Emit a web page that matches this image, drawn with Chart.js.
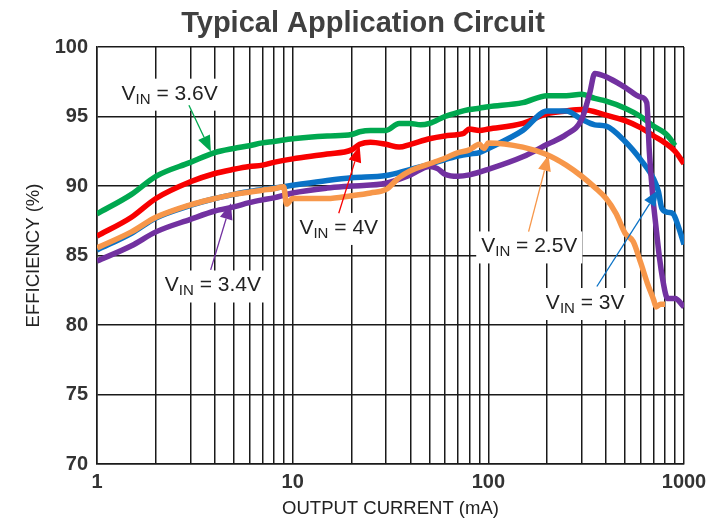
<!DOCTYPE html>
<html>
<head>
<meta charset="utf-8">
<script src="https://cdn.jsdelivr.net/npm/chart.js@4.4.0/dist/chart.umd.min.js"></script>
<style>
  body { margin: 0; background: #fff; }
</style>
</head>
<body>
<canvas id="eff-chart" width="726" height="523"></canvas>
<script>
/* axis ticks */
var xMajor = [1, 10, 100, 1000];
var xMinor = [2, 3, 4, 5, 6, 7, 8, 9];
var yTicks = [70, 75, 80, 85, 90, 95, 100];

/* curves: output current (mA) / efficiency (%) */
var i36 = [1, 1.5, 2, 3, 4, 5, 6, 7, 8, 10, 15, 20, 22, 25, 30, 35, 40, 45, 50, 60, 70, 80, 90, 100, 150, 200, 250, 300, 350, 400, 500, 600, 700, 800, 850, 900];
var e36 = [88.0, 89.4, 90.7, 91.7, 92.4, 92.7, 92.9, 93.1, 93.2, 93.4, 93.6, 93.7, 93.9, 94.0, 94.0, 94.5, 94.5, 94.4, 94.5, 95.0, 95.3, 95.5, 95.6, 95.7, 96.0, 96.5, 96.5, 96.6, 96.3, 96.1, 95.6, 95.0, 94.3, 93.8, 93.4, 92.9];

var i4 = [1, 1.5, 2, 3, 4, 5, 6, 7, 8, 10, 15, 20, 22, 25, 30, 35, 40, 50, 60, 70, 75, 80, 90, 100, 150, 200, 250, 300, 400, 500, 600, 700, 800, 900, 1000];
var e4 = [86.4, 87.75, 89.1, 90.3, 90.9, 91.2, 91.4, 91.5, 91.7, 91.95, 92.3, 92.6, 93.0, 93.15, 93.0, 92.8, 93.0, 93.4, 93.6, 93.7, 93.8, 94.1, 94.0, 94.1, 94.5, 95.2, 95.4, 95.5, 95.1, 94.7, 94.2, 93.6, 93.1, 92.5, 91.6];

var i3 = [1, 1.5, 2, 3, 4, 5, 6, 7, 8, 10, 15, 20, 30, 40, 50, 60, 70, 80, 90, 100, 150, 200, 250, 300, 350, 400, 500, 600, 700, 740, 770, 830, 880, 935, 1000];
var e3 = [85.4, 86.6, 87.7, 88.6, 89.1, 89.4, 89.6, 89.75, 89.85, 90.05, 90.4, 90.6, 90.75, 91.2, 91.55, 91.9, 92.15, 92.3, 92.4, 92.7, 94.0, 95.4, 95.4, 94.8, 94.4, 94.3, 93.2, 91.9, 90.5, 89.6, 88.4, 88.1, 88.0, 87.1, 85.8];

var i25 = [1, 1.5, 2, 3, 4, 5, 6, 7, 8, 9, 9.3, 10, 15, 20, 25, 30, 35, 40, 50, 60, 70, 80, 90, 95, 100, 150, 200, 250, 300, 350, 400, 450, 500, 550, 600, 650, 700, 720, 760, 800];
var e25 = [85.55, 86.7, 87.75, 88.65, 89.1, 89.4, 89.55, 89.7, 89.8, 89.95, 88.7, 89.1, 89.1, 89.3, 89.5, 89.75, 90.6, 91.1, 91.6, 92.0, 92.4, 92.6, 93.0, 92.7, 93.1, 92.8, 92.25, 91.5, 90.7, 89.9, 89.1, 88.0, 86.6, 86.0, 84.5, 83.0, 81.8, 81.3, 81.5, 81.5];

var i34 = [1, 1.5, 2, 3, 4, 5, 6, 7, 8, 10, 15, 20, 30, 40, 50, 55, 60, 70, 80, 100, 150, 200, 250, 300, 330, 350, 400, 500, 600, 645, 665, 690, 720, 750, 780, 810, 830, 900, 1000];
var e34 = [84.6, 85.7, 86.7, 87.6, 88.2, 88.5, 88.8, 89.0, 89.15, 89.5, 89.85, 90.0, 90.2, 90.8, 91.4, 91.25, 90.85, 90.7, 90.8, 91.2, 92.1, 93.0, 93.7, 94.8, 96.7, 98.1, 97.85, 97.1, 96.4, 96.0, 92.5, 89.5, 87.0, 84.8, 83.2, 82.1, 81.9, 81.9, 81.3];

var colors = {
  '3.6V': '#00a84f',
  '4V': '#f80000',
  '3V': '#0a72c6',
  '2.5V': '#f7974a',
  '3.4V': '#7231a0'
};

// label spots + arrow (data units)
var notes = [
  { vin: '3.6V', at: [2.35, 96.57], tail: [2.95, 95.81], tip: [3.82, 92.46] },
  { vin: '4V', at: [17.2, 86.91], tail: [17.2, 88.04], tip: [22.0, 92.87] },
  { vin: '3.4V', at: [3.91, 82.77], tail: [3.81, 83.97], tip: [4.83, 88.76] },
  { vin: '2.5V', at: [161.9, 85.58], tail: [160.6, 86.72], tip: [203, 92.23] },
  { vin: '3V', at: [312.6, 81.51], tail: [358.6, 82.77], tip: [739, 89.71] }
];

var FONT = "'Liberation Sans', Arial, Helvetica, sans-serif";

var gridValues = [];
[1, 10, 100].forEach(function(d) {
  gridValues.push(d);
  xMinor.forEach(function(m) { gridValues.push(m * d); });
});
gridValues.push(1000);

function pts(xs, ys) {
  var out = [];
  for (var k = 0; k < xs.length; k++) out.push({ x: xs[k], y: ys[k] });
  return out;
}

function series(vin, xs, ys) {
  return {
    label: 'VIN = ' + vin,
    data: pts(xs, ys),
    borderColor: colors[vin],
    borderWidth: 5.5,
    pointRadius: 0,
    fill: false,
    cubicInterpolationMode: 'monotone',
    borderJoinStyle: 'round'
  };
}

var notePlugin = {
  id: 'notes',
  beforeDraw: function(chart) {
    var ctx = chart.ctx;
    ctx.save();
    ctx.font = 'bold 29px ' + FONT;
    ctx.fillStyle = '#404040';
    ctx.textAlign = 'center';
    ctx.textBaseline = 'alphabetic';
    ctx.fillText('Typical Application Circuit', chart.width / 2, 31.5);
    ctx.restore();
  },
  afterDatasetsDraw: function(chart) {
    var ctx = chart.ctx;
    var xs = chart.scales.x, ys = chart.scales.y;
    ctx.save();
    notes.forEach(function(n) {
      var col = colors[n.vin];
      var cx = xs.getPixelForValue(n.at[0]);
      var cy = ys.getPixelForValue(n.at[1]);
      var rest = ' = ' + n.vin;
      ctx.font = '21px ' + FONT;
      var w1 = ctx.measureText('V').width;
      var w3 = ctx.measureText(rest).width;
      ctx.font = '15px ' + FONT;
      var w2 = ctx.measureText('IN').width;
      var w = w1 + w2 + w3;
      var left = cx - w / 2;

      ctx.fillStyle = '#fff';
      ctx.fillRect(left - 5, cy - 16, w + 10, 32);

      // arrow
      var tx = xs.getPixelForValue(n.tail[0]), ty = ys.getPixelForValue(n.tail[1]);
      var hx = xs.getPixelForValue(n.tip[0]), hy = ys.getPixelForValue(n.tip[1]);
      var ang = Math.atan2(hy - ty, hx - tx);
      var hl = 16, hw = 6.5;
      var bx = hx - hl * Math.cos(ang), by = hy - hl * Math.sin(ang);
      ctx.strokeStyle = col;
      ctx.lineWidth = 1.3;
      ctx.beginPath();
      ctx.moveTo(tx, ty);
      ctx.lineTo(bx, by);
      ctx.stroke();
      ctx.fillStyle = col;
      ctx.beginPath();
      ctx.moveTo(hx, hy);
      ctx.lineTo(bx + hw * Math.sin(ang), by - hw * Math.cos(ang));
      ctx.lineTo(bx - hw * Math.sin(ang), by + hw * Math.cos(ang));
      ctx.closePath();
      ctx.fill();

      // text V_IN = x
      ctx.fillStyle = '#222';
      ctx.textAlign = 'left';
      ctx.textBaseline = 'alphabetic';
      var base = cy + 5;
      ctx.font = '21px ' + FONT;
      ctx.fillText('V', left, base);
      ctx.font = '15px ' + FONT;
      ctx.fillText('IN', left + w1, base + 4);
      ctx.font = '21px ' + FONT;
      ctx.fillText(rest, left + w1 + w2, base);
    });
    ctx.restore();
  }
};

Chart.defaults.font.family = FONT;

new Chart(document.getElementById('eff-chart'), {
  type: 'line',
  data: {
    datasets: [
      series('2.5V', i25, e25),
      series('3.4V', i34, e34),
      series('3V', i3, e3),
      series('4V', i4, e4),
      series('3.6V', i36, e36)
    ]
  },
  options: {
    responsive: false,
    animation: false,
    devicePixelRatio: 1,
    layout: { padding: { top: 47, left: 0, right: 42, bottom: 0 } },
    plugins: {
      legend: { display: false },
      title: { display: false },
      tooltip: { enabled: false }
    },
    scales: {
      x: {
        type: 'logarithmic',
        min: 1,
        max: 1000,
        afterBuildTicks: function(scale) {
          scale.ticks = gridValues.map(function(v) { return { value: v }; });
        },
        afterFit: function(scale) { scale.height = 59; },
        grid: { color: '#1a1a1a', lineWidth: 1.5, drawTicks: false },
        border: { color: '#1a1a1a', width: 1.5 },
        ticks: {
          autoSkip: false,
          maxRotation: 0,
          padding: 6,
          color: '#333',
          font: { size: 20, weight: 'bold' },
          callback: function(v) { return xMajor.indexOf(v) >= 0 ? String(v) : ''; }
        },
        title: {
          display: true,
          text: 'OUTPUT CURRENT (mA)',
          color: '#222',
          font: { size: 18.5 },
          padding: { top: 0, bottom: 3 }
        }
      },
      y: {
        type: 'linear',
        min: yTicks[0],
        max: yTicks[yTicks.length - 1],
        afterBuildTicks: function(scale) {
          scale.ticks = yTicks.map(function(v) { return { value: v }; });
        },
        afterFit: function(scale) { scale.width = 97; },
        grid: { color: '#1a1a1a', lineWidth: 1.5, drawTicks: false },
        border: { color: '#1a1a1a', width: 1.5 },
        ticks: {
          padding: 9,
          color: '#333',
          font: { size: 20, weight: 'bold' }
        },
        title: {
          display: true,
          text: 'EFFICIENCY (%)',
          color: '#222',
          font: { size: 18.5 },
          padding: { top: 23, bottom: 0 }
        }
      }
    }
  },
  plugins: [notePlugin]
});
</script>
</body>
</html>
